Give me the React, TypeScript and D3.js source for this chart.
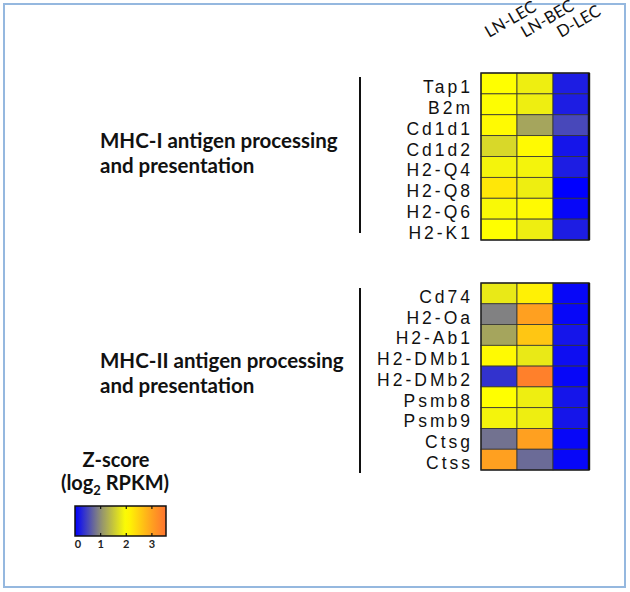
import React from 'react';
import * as d3 from 'd3';

const columns = ['LN-LEC', 'LN-BEC', 'D-LEC'];

const mhc1Genes = ['Tap1', 'B2m', 'Cd1d1', 'Cd1d2', 'H2-Q4', 'H2-Q8', 'H2-Q6', 'H2-K1'];
const mhc1Values = [
  [2.0, 1.85, 0.2],
  [1.98, 1.85, 0.2],
  [2.05, 1.2, 0.5],
  [1.65, 2.05, 0.15],
  [1.9, 1.9, 0.2],
  [2.25, 1.85, 0.0],
  [1.95, 2.05, 0.05],
  [2.0, 1.85, 0.2],
];

const mhc2Genes = ['Cd74', 'H2-Oa', 'H2-Ab1', 'H2-DMb1', 'H2-DMb2', 'Psmb8', 'Psmb9', 'Ctsg', 'Ctss'];
const mhc2Values = [
  [1.8, 2.15, 0.05],
  [0.9, 3.0, 0.05],
  [1.2, 2.6, 0.15],
  [2.05, 1.8, 0.1],
  [0.35, 3.4, 0.05],
  [2.0, 1.85, 0.15],
  [1.9, 1.85, 0.15],
  [0.8, 3.0, 0.05],
  [3.0, 0.75, 0.05],
];

const groupTitles = [
  ['MHC-I antigen processing', 'and presentation'],
  ['MHC-II antigen processing', 'and presentation'],
];

const legendTicks = [0, 1, 2, 3];
const legendMax = 3.55;

const color = d3
  .scaleLinear<string>()
  .domain([0, 1, 2, 3, 3.6])
  .range(['#0000ff', '#8f8f74', '#ffff00', '#ffa020', '#ff7030'])
  .clamp(true);

const xBand = d3.scaleBand<string>().domain(columns).range([481, 589]).padding(0);

const groups = [
  { genes: mhc1Genes, values: mhc1Values, range: [73, 240], line: [77, 233] },
  { genes: mhc2Genes, values: mhc2Values, range: [283, 470], line: [288, 473] },
];

const titleFont = 'Lato, "Open Sans", sans-serif';
const labelFont = '"Liberation Sans", Arial, sans-serif';

const Heatmap: React.FC<{ genes: string[]; values: number[][]; range: number[]; line: number[]; title: string[] }> = ({
  genes,
  values,
  range,
  line,
  title,
}) => {
  const y = d3.scaleBand<string>().domain(genes).range(range as [number, number]).padding(0);
  const [x0, x1] = xBand.range();
  const mid = (range[0] + range[1]) / 2;
  return (
    <g>
      {genes.map((g, i) =>
        columns.map((c, j) => (
          <rect
            key={g + c}
            x={xBand(c)}
            y={y(g)}
            width={xBand.bandwidth()}
            height={y.bandwidth()}
            fill={color(values[i][j])}
            stroke="#333"
            strokeWidth={0.8}
          />
        ))
      )}
      <rect x={x0} y={range[0]} width={x1 - x0} height={range[1] - range[0]} fill="none" stroke="#222" strokeWidth={1.4} />
      <line x1={x1} x2={x1} y1={range[0]} y2={range[1]} stroke="#111" strokeWidth={2.4} />
      {genes.map((g) => (
        <text
          key={g}
          x={473}
          y={(y(g) as number) + y.bandwidth() - 1}
          textAnchor="end"
          fontFamily={labelFont}
          fontSize={17.5}
          letterSpacing={3}
          fill="#111"
        >
          {g}
        </text>
      ))}
      <line x1={360} x2={360} y1={line[0]} y2={line[1]} stroke="#111" strokeWidth={2} />
      {title.map((t, k) => (
        <text key={t} x={100} y={mid - 8.5 + k * 25} fontFamily={titleFont} fontWeight={700} fontSize={20.5} fill="#111">
          {t}
        </text>
      ))}
    </g>
  );
};

const Legend: React.FC = () => {
  const lx = d3.scaleLinear().domain([0, legendMax]).range([75, 166]);
  const top = 506;
  const h = 30;
  const stops = d3.range(0, 21).map((k) => (k / 20) * legendMax);
  return (
    <g>
      <defs>
        <linearGradient id="zgrad" x1="0" x2="1" y1="0" y2="0">
          {stops.map((s) => (
            <stop key={s} offset={s / legendMax} stopColor={color(s)} />
          ))}
        </linearGradient>
      </defs>
      <text x={116} y={467} textAnchor="middle" fontFamily={titleFont} fontWeight={700} fontSize={20} fill="#111">
        Z-score
      </text>
      <text x={115} y={490} textAnchor="middle" fontFamily={titleFont} fontWeight={700} fontSize={20} fill="#111">
        (log
        <tspan fontSize={13} dy={5}>2</tspan>
        <tspan dy={-5}> RPKM)</tspan>
      </text>
      <rect x={lx(0)} y={top} width={lx(legendMax) - lx(0)} height={h} fill="url(#zgrad)" stroke="#111" strokeWidth={1.5} />
      {legendTicks.slice(1).map((t) => (
        <g key={t}>
          <line x1={lx(t)} x2={lx(t)} y1={top} y2={top + 3} stroke="#111" strokeWidth={1.2} />
          <line x1={lx(t)} x2={lx(t)} y1={top + h - 3} y2={top + h} stroke="#111" strokeWidth={1.2} />
        </g>
      ))}
      {legendTicks.map((t) => (
        <text
          key={t}
          x={t === 0 ? lx(t) + 3 : lx(t)}
          y={548}
          textAnchor="middle"
          fontFamily={titleFont}
          fontWeight={700}
          fontSize={11}
          fill="#222"
        >
          {t}
        </text>
      ))}
    </g>
  );
};

export default function App() {
  return (
    <>
      <style>{`body{margin:0}`}</style>
      <svg width={630} height={592} style={{ display: 'block', background: '#fff' }}>
        <rect x={4} y={4} width={621} height={583} fill="#fff" stroke="#95b8df" strokeWidth={2} />
        {columns.map((c) => (
          <text
            key={c}
            transform={`translate(${(xBand(c) as number) + xBand.bandwidth() / 2 - 10},38) rotate(-30)`}
            fontFamily={titleFont}
            fontSize={16.5}
            fill="#111"
          >
            {c}
          </text>
        ))}
        {groups.map((g, i) => (
          <Heatmap key={i} genes={g.genes} values={g.values} range={g.range} line={g.line} title={groupTitles[i]} />
        ))}
        <Legend />
      </svg>
    </>
  );
}
